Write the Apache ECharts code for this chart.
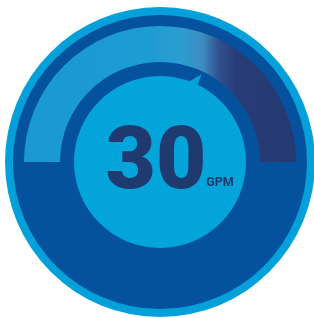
<!DOCTYPE html>
<html>
<head>
<meta charset="utf-8">
<script src="https://cdn.jsdelivr.net/npm/echarts@6/dist/echarts.min.js"></script>
<style>
html,body{margin:0;padding:0;background:#ffffff;}
#chart{width:314px;height:318px;}
</style>
</head>
<body>
<div id="chart"></div>
<script>
// Data
const gaugeValue = [30];
const unitLabel = 'GPM';
const gaugeMin = 0;
const gaugeMax = 48;
const discValues = [1];

const chart = echarts.init(document.getElementById('chart'), null, {renderer: 'canvas'});

const C = [160, 162];
function disc(r, color, z) {
  return {
    type: 'pie', center: C, radius: [0, r], silent: true, z: z,
    label: {show: false}, labelLine: {show: false},
    itemStyle: {color: color},
    data: discValues.map(v => ({value: v}))
  };
}

const arcGradient = new echarts.graphic.LinearGradient(0, 0, 1, 0, [
  {offset: 0, color: '#1a98d4'},
  {offset: 0.45, color: '#1d9bd3'},
  {offset: 0.58, color: '#2c9dce'},
  {offset: 0.655, color: '#3c8dc1'},
  {offset: 0.715, color: '#30528f'},
  {offset: 0.78, color: '#293b78'},
  {offset: 1, color: '#243a70'}
]);

chart.setOption({
  animation: false,
  backgroundColor: '#ffffff',
  series: [
    disc(155, '#04a0da', 1),
    disc(147, '#04529e', 2),
    disc(86, '#02a4da', 3),
    {
      type: 'gauge',
      z: 10,
      center: C,
      radius: 136,
      startAngle: 180,
      endAngle: 0,
      min: gaugeMin,
      max: gaugeMax,
      silent: true,
      axisLine: {lineStyle: {width: 36, color: [[1, arcGradient]]}},
      splitLine: {show: false},
      axisTick: {show: false},
      axisLabel: {show: false},
      anchor: {show: false},
      progress: {show: false},
      pointer: {
        show: true,
        icon: 'path://M10,0 L10,12 L0,12 Z',
        width: 10,
        length: 13,
        offsetCenter: [0, -84],
        itemStyle: {color: '#02a4da'}
      },
      title: {
        show: true,
        offsetCenter: [60, 21],
        color: '#1f3a6e',
        fontFamily: 'Roboto',
        fontWeight: 'bold',
        fontSize: 12.5
      },
      detail: {
        show: true,
        offsetCenter: [-4, 4],
        color: '#1f3a6e',
        fontFamily: 'Roboto',
        fontWeight: 900,
        fontSize: 87,
        formatter: '{value}'
      },
      data: gaugeValue.map(v => ({value: v, name: unitLabel}))
    }
  ]
});
</script>
</body>
</html>
